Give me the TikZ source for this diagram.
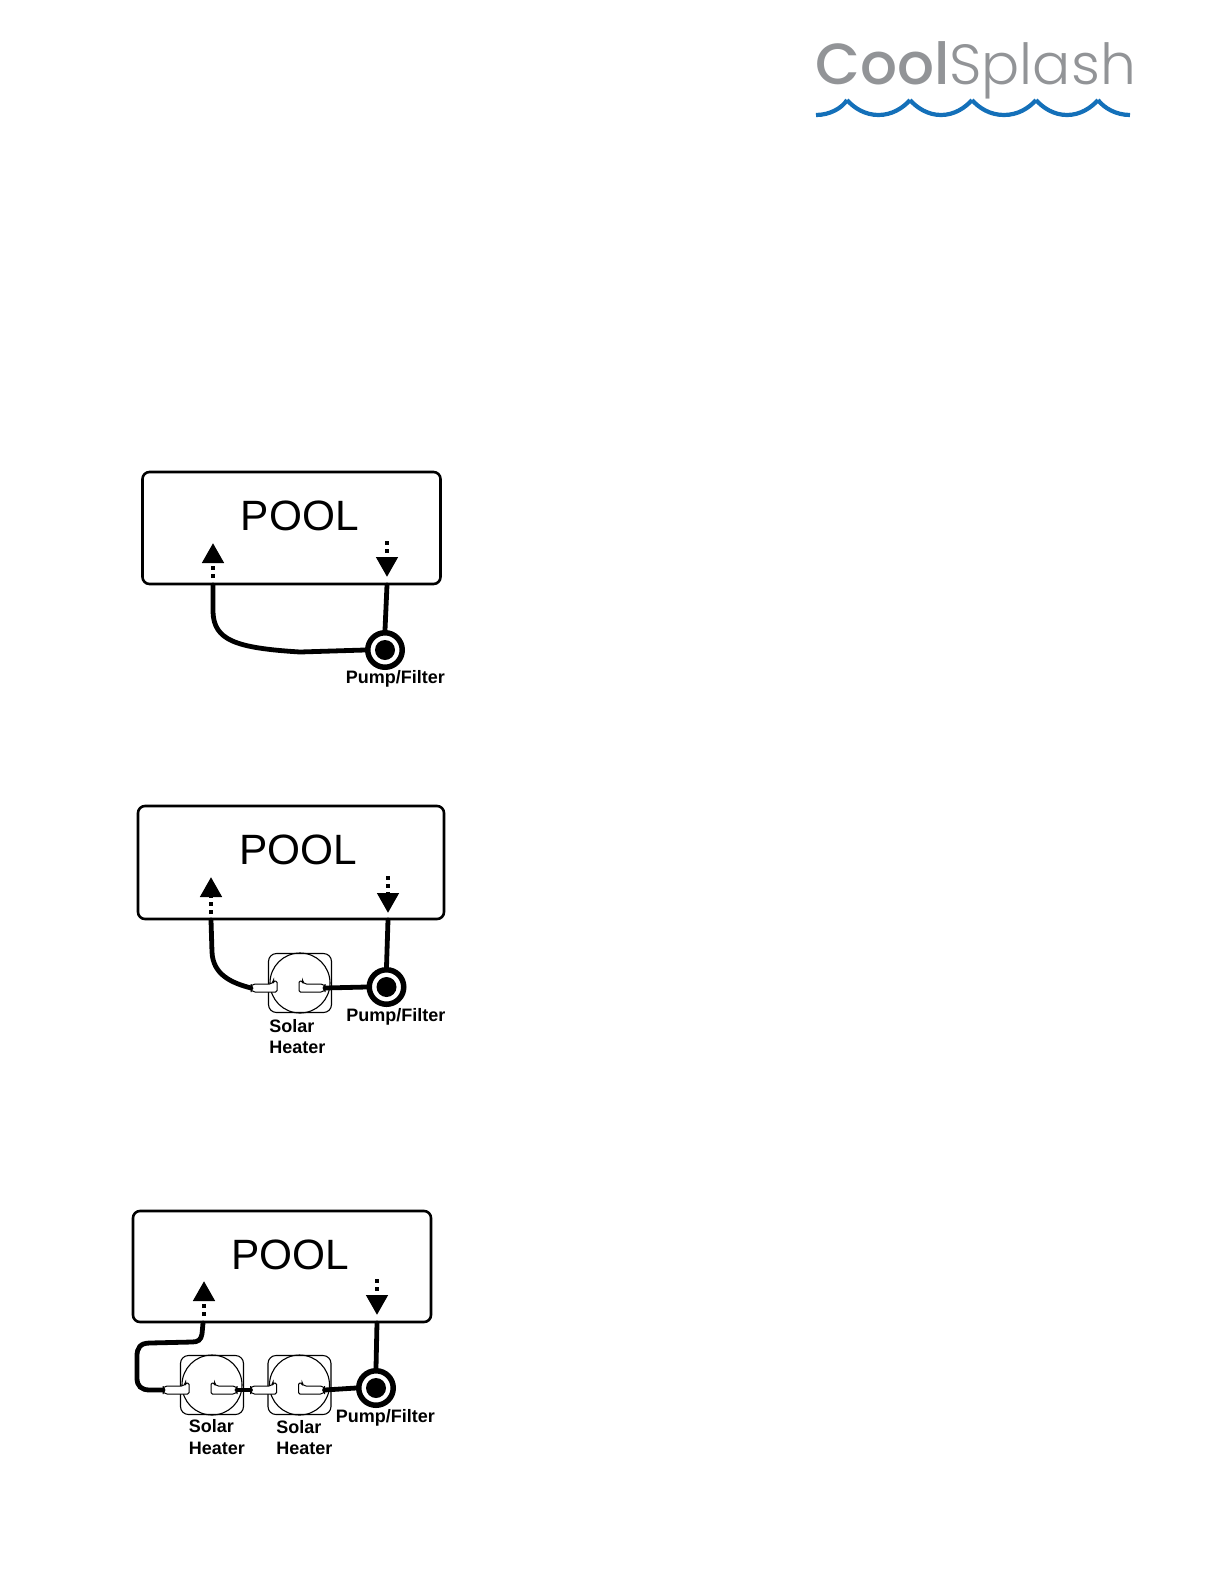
\documentclass[tikz,border=0pt]{standalone}
\usepackage{fontspec}
\setmainfont{Liberation Sans}
\newfontfamily\logolight{Poppins Light}
\newfontfamily\logomedium{Poppins Medium}
\usetikzlibrary{arrows.meta}
\definecolor{logogray}{RGB}{146,148,151}
\definecolor{logoblue}{RGB}{20,112,185}
\tikzset{
  poolbox/.style={draw,line width=1.3bp,rounded corners=3.5bp,inner sep=0pt},
  pooltext/.style={font=\fontsize{21.2bp}{24bp}\selectfont,inner sep=0pt,anchor=base west},
  pumpring/.style={draw,circle,line width=2.75bp,fill=white,inner sep=0pt,minimum size=17.25bp},
  pumpdot/.style={fill,circle,inner sep=0pt,minimum size=10bp},
  pipe/.style={line width=2.4bp,line cap=round},
  flowdots/.style={line width=2.3bp,dash pattern=on 2bp off 2bp,-{Triangle[length=10bp,width=10.5bp]}},
  partlabel/.style={font=\fontsize{9bp}{10.7bp}\selectfont\bfseries,inner sep=0pt,anchor=north west,align=left},
  pumplabel/.style={font=\fontsize{9bp}{10.7bp}\selectfont\bfseries,inner sep=0pt,anchor=base west},
  heaterbox/.style={draw,line width=0.55bp,rounded corners=4bp,inner sep=0pt,minimum width=31.5bp,minimum height=29.5bp},
  heaterdisc/.style={draw,circle,line width=0.55bp,inner sep=0pt,minimum size=30bp},
  tube/.style={draw=black,fill=white,line width=0.5bp},
  logotext/.style={text=logogray,inner sep=0pt,anchor=base west}
}
\newcommand{\solarheater}[3]{
  \node[heaterbox] (#1box) at (#2,#3) {};
  \node[heaterdisc] (#1disc) at (#2,#3) {};
  \draw[tube,rounded corners=2bp] (#2-49,#3+5) -- (#2-49,#3+1) -- (#2-26.5,#3+1)
    [rounded corners=0.7bp] -- (#2-26.5,#3-2) -- (#2-23,#3-2) -- (#2-23,#3+9)
    [rounded corners=2bp] -- (#2-49,#3+9) -- cycle;
  \draw[tube,rounded corners=2bp] (#2+25,#3+5) -- (#2+25,#3+1) -- (#2+2.5,#3+1)
    [rounded corners=0.7bp] -- (#2+2.5,#3-2) -- (#2-1,#3-2) -- (#2-1,#3+9)
    [rounded corners=2bp] -- (#2+25,#3+9) -- cycle;
  \coordinate (#1in) at (#2-49,#3+5);
  \coordinate (#1out) at (#2+25,#3+5);
}
\newcommand{\pumpfilter}[3]{
  \node[pumpring] (#1) at (#2,#3) {};
  \node[pumpdot] (#1dot) at (#2,#3) {};
}
\begin{document}
\begin{tikzpicture}[x=0.5bp,y=-0.5bp]
  \useasboundingbox (0,0) rectangle (1224,1584);
  % logo
  \node[logotext,font=\fontsize{29bp}{34bp}\logomedium] (cool) at (815,84.5) {Cool};
  \node[logotext,font=\fontsize{28.3bp}{34bp}\logolight] (splash) at (949,84.5) {Splash};
  \draw[logoblue,line width=2.1bp] (816,115) .. controls (830,115) and (842,108) .. (847,100);
  \foreach \a/\b in {847/910,910/972,972/1036,1036/1098}{
    \draw[logoblue,line width=2.1bp] (\a,100) .. controls (\a+7,108) and (\a+18,115) .. ({(\a+\b)/2},115)
      .. controls (\b-18,115) and (\b-7,108) .. (\b,100);
  }
  \draw[logoblue,line width=2.1bp] (1098,100) .. controls (1104,108) and (1116,115) .. (1130,115);
  % pool boxes
  \node[poolbox,minimum width=149bp,minimum height=56bp] (pool1) at (291.5,528) {};
  \node[poolbox,minimum width=153bp,minimum height=56.5bp] (pool2) at (291,862.5) {};
  \node[poolbox,minimum width=149bp,minimum height=55.5bp] (pool3) at (282,1266.5) {};
  \node[pooltext] (title1) at (240.5,530.5) {POOL};
  \node[pooltext] (title2) at (239,864.5) {POOL};
  \node[pooltext] (title3) at (231,1269.5) {POOL};
  % flow arrows
  \foreach \name/\x/\ya/\yb in {up1/213/578/543,dn1/387/541/577,up2/211/914/877,dn2/388/876/913,up3/204/1316/1281,dn3/377/1279/1315}{
    \coordinate (\name a) at (\x,\ya);
    \coordinate (\name b) at (\x,\yb);
    \draw[flowdots] (\name a) -- (\name b);
  }
  % pumps and heaters
  \pumpfilter{pump1}{385}{650}
  \pumpfilter{pump2}{386.5}{987}
  \pumpfilter{pump3}{376}{1388}
  \solarheater{heat2}{300}{983}
  \solarheater{heatA}{212}{1385}
  \solarheater{heatB}{299.5}{1385}
  % pipes
  \coordinate (ret1) at (213,585);
  \coordinate (sup1) at (387,585);
  \coordinate (ret2) at (211,920);
  \coordinate (sup2) at (388,920);
  \coordinate (ret3) at (203,1323);
  \coordinate (sup3) at (377,1323);
  \draw[pipe] (ret1) -- (213,612) .. controls (214,640) and (235,648) .. (300,652) -- (pump1.west);
  \draw[pipe] (sup1) -- (pump1.north);
  \draw[pipe] (ret2) -- (212,952) .. controls (213,975) and (232,983) .. (heat2in);
  \draw[pipe] (heat2out) -- (pump2.west);
  \draw[pipe] (sup2) -- (pump2.north);
  \draw[pipe] (ret3) -- (202,1334) .. controls (201,1340) and (198,1342) .. (192,1342) -- (150,1343)
    .. controls (140,1343) and (137,1348) .. (137,1356) -- (137,1378)
    .. controls (137,1386) and (141,1390) .. (150,1390) -- (heatAin);
  \draw[pipe] (heatAout) -- (heatBin);
  \draw[pipe] (heatBout) -- (pump3.west);
  \draw[pipe] (sup3) -- (pump3.north);
  % labels
  \node[pumplabel] (lab1) at (345.5,683.5) {Pump/Filter};
  \node[pumplabel] (lab2) at (346,1021.5) {Pump/Filter};
  \node[pumplabel] (lab3) at (335.5,1422) {Pump/Filter};
  \node[partlabel] (lab4) at (269,1019) {Solar\\Heater};
  \node[partlabel] (lab5) at (188.5,1419.5) {Solar\\Heater};
  \node[partlabel] (lab6) at (276,1420) {Solar\\Heater};
\end{tikzpicture}
\end{document}
